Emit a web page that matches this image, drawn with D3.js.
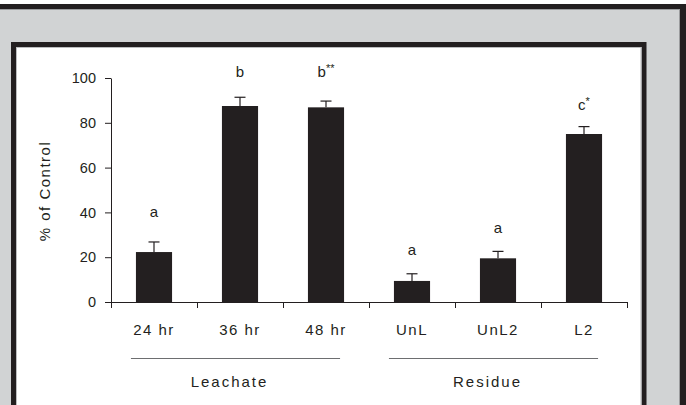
<!DOCTYPE html>
<html><head><meta charset="utf-8">
<script src="https://cdn.jsdelivr.net/npm/d3@7/dist/d3.min.js"></script>
<style>
html,body{margin:0;padding:0;background:#fff;}
svg{display:block;}
text{font-family:"Liberation Sans",Arial,sans-serif;fill:#231f20;}
</style></head>
<body>
<svg id="chart" width="686" height="405"></svg>
<script>
const categories = ["24 hr", "36 hr", "48 hr", "UnL", "UnL2", "L2"];
const values = [22.3, 87.5, 86.9, 9.4, 19.5, 75.0];
const errors = [4.5, 3.9, 2.8, 3.2, 3.1, 3.3];
const letters = ["a", "b", "b**", "a", "a", "c*"];
const letterAt = [37.9, 100.5, 100.5, 21.0, 30.8, 85.7];
const groups = [
  {name: "Leachate", from: "24 hr", to: "48 hr"},
  {name: "Residue", from: "UnL", to: "L2"}
];
const yTicks = [0, 20, 40, 60, 80, 100];

const ink = "#231f20";
const svg = d3.select("#chart");

// background frames
svg.append("rect").attr("x",0).attr("y",4).attr("width",686).attr("height",401).attr("fill","#d1d3d4");
svg.append("rect").attr("x",0).attr("y",4).attr("width",686).attr("height",5).attr("fill",ink);
svg.append("rect").attr("x",680).attr("y",4).attr("width",6).attr("height",401).attr("fill",ink);
svg.append("line").attr("x1",0).attr("x2",679).attr("y1",9.5).attr("y2",9.5).attr("stroke","#9a9b9d").attr("stroke-width",1);
svg.append("line").attr("x1",679.5).attr("x2",679.5).attr("y1",9).attr("y2",405).attr("stroke","#9a9b9d").attr("stroke-width",1);
svg.append("rect").attr("x",13.5).attr("y",44.5).attr("width",630.5).attr("height",400)
  .attr("fill","#fff").attr("stroke",ink).attr("stroke-width",5);
svg.append("rect").attr("x",16.5).attr("y",47.5).attr("width",624.5).attr("height",400)
  .attr("fill","none").attr("stroke","#bcbdbf").attr("stroke-width",1);

const x0 = 111, x1 = 627, yBase = 302, yTop = 78;
const x = d3.scaleBand().domain(categories).range([x0, x1]).paddingInner(0.58).paddingOuter(0.29);
const y = d3.scaleLinear().domain([0, 100]).range([yBase, yTop]);
const xb = d3.scaleLinear().domain([0, categories.length]).range([x0, x1]);

const g = svg.append("g");

// y axis
const yAxis = g.append("g").attr("transform",`translate(${x0},0)`)
  .call(d3.axisLeft(y).tickValues(yTicks).tickSize(6).tickSizeOuter(0).tickPadding(9).tickFormat(d3.format("d")));
// x axis (ticks at category boundaries)
const xAxis = g.append("g").attr("transform",`translate(0,${yBase})`)
  .call(d3.axisBottom(xb).tickValues(d3.range(categories.length+1)).tickSize(6).tickSizeOuter(0).tickFormat(""));
[yAxis, xAxis].forEach(a => {
  a.selectAll("path").attr("stroke", ink).attr("stroke-width", 1);
  a.selectAll("line").attr("stroke", ink).attr("stroke-width", 1);
  a.selectAll("text").attr("font-size", 14.5).attr("fill", ink)
    .style("font-family", '"Liberation Sans",Arial,sans-serif');
});
xAxis.select("path").attr("d", `M${x0-6},0.5H${x1}`);

// bars
const data = categories.map((c,i)=>({c, v: values[i], e: errors[i], l: letters[i], la: letterAt[i]}));
g.selectAll("rect.bar").data(data).join("rect").attr("class","bar")
  .attr("x", d=>x(d.c)).attr("width", x.bandwidth())
  .attr("y", d=>y(d.v)).attr("height", d=>y(0)-y(d.v)).attr("fill", ink);

// error bars
const capW = 11;
const eb = g.selectAll("g.err").data(data).join("g").attr("class","err");
eb.append("line").attr("x1", d=>x(d.c)+x.bandwidth()/2).attr("x2", d=>x(d.c)+x.bandwidth()/2)
  .attr("y1", d=>y(d.v)).attr("y2", d=>y(d.v+d.e)).attr("stroke", ink).attr("stroke-width",1.2);
eb.append("line").attr("x1", d=>x(d.c)+x.bandwidth()/2-capW/2).attr("x2", d=>x(d.c)+x.bandwidth()/2+capW/2)
  .attr("y1", d=>y(d.v+d.e)).attr("y2", d=>y(d.v+d.e)).attr("stroke", ink).attr("stroke-width",1.2);

// significance letters
g.selectAll("text.sig").data(data).join("text").attr("class","sig")
  .attr("x", d=>x(d.c)+x.bandwidth()/2).attr("y", d=>y(d.la))
  .attr("text-anchor","middle").attr("font-size",15)
  .each(function(d){
    const t = d3.select(this);
    const m = d.l.match(/^([a-z]+)(\**)$/);
    t.append("tspan").text(m[1]);
    if (m[2]) t.append("tspan").attr("font-size",11).attr("dy",-5).text(m[2]);
  });

// category labels
g.selectAll("text.cat").data(categories).join("text").attr("class","cat")
  .attr("x", d=>x(d)+x.bandwidth()/2).attr("y", 335)
  .attr("text-anchor","middle").attr("font-size",15).style("letter-spacing","1.5px").text(d=>d);

// group lines and labels
groups.forEach(gr => {
  const a = x(gr.from) - 5, b = x(gr.to) + x.bandwidth() - 4;
  g.append("line").attr("x1",a).attr("x2",b).attr("y1",358.5).attr("y2",358.5)
    .attr("stroke", "#6d6e70").attr("stroke-width",1.2);
  g.append("text").attr("x",(a+b)/2 - 6).attr("y",387).attr("text-anchor","middle")
    .attr("font-size",15).style("letter-spacing","2px").text(gr.name);
});

// y label
svg.append("text").attr("transform",`translate(49.5,191) rotate(-90)`)
  .attr("text-anchor","middle").attr("font-size",15).style("letter-spacing","1.5px").text("% of Control");
</script>
</body></html>
